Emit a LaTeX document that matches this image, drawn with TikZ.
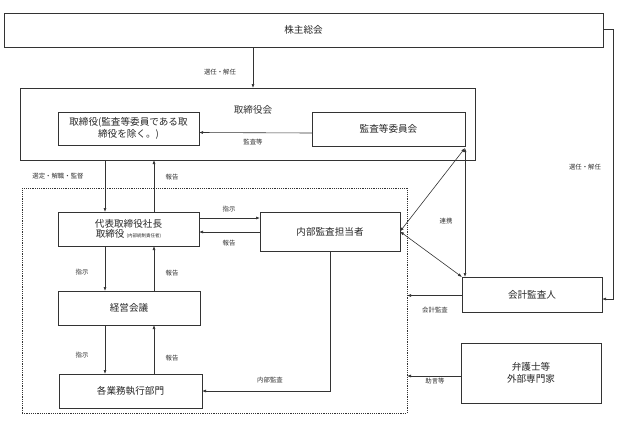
\documentclass[tikz,border=0pt]{standalone}
\usepackage{fontspec}
\newfontfamily\jp{Noto Sans CJK JP}
\usetikzlibrary{arrows.meta,calc}
\definecolor{ln}{HTML}{333333}
\tikzset{
  box/.style={draw=ln, line width=0.8pt, rectangle, inner sep=1pt, outer sep=0pt, align=center, font=\jp\fontsize{9.6}{11.5}\selectfont, text=black!85},
  lbl/.style={inner sep=0pt, font=\jp\fontsize{6.4}{8}\selectfont, text=black!80},
  arr/.style={draw=ln, line width=0.6pt, -{Latex[length=4pt,width=3pt]}},
  darr/.style={draw=ln, line width=0.6pt, {Latex[length=4pt,width=3pt]}-{Latex[length=4pt,width=3pt]}},
  dotbox/.style={draw=ln, line width=0.8pt, dash pattern=on 1.2pt off 1pt, rectangle, inner sep=0pt, outer sep=0pt}
}
\begin{document}
\begin{tikzpicture}[x=1pt,y=-1pt]
\useasboundingbox (0,0) rectangle (624,421);
% nodes
\node[box, minimum width=599pt, minimum height=34pt] (sh) at (303.5,30) {株主総会};
\node[box, line width=1pt, minimum width=455pt, minimum height=72pt] (bod) at (247.5,124) {};
\node[lbl, font=\jp\fontsize{9.6}{11}\selectfont] (bodt) at (253,110) {取締役会};
\node[box, minimum width=141pt, minimum height=33pt] (dir) at (128.5,128.5) {取締役(監査等委員である取\\締役を除く。)};
\node[box, minimum width=153pt, minimum height=34pt] (ac) at (388.5,129) {監査等委員会};
\node[dotbox, minimum width=385pt, minimum height=225pt] (dot) at (214.5,300.5) {};
\node[box, minimum width=141pt, minimum height=34pt] (rep) at (128.5,229) {代表取締役社長\\[-2pt]取締役 {\fontsize{4.5}{5}\selectfont (内部統制責任者)}};
\node[box, minimum width=140pt, minimum height=39pt] (ia) at (330,231.5) {内部監査担当者};
\node[box, minimum width=142pt, minimum height=34pt] (mg) at (129,308) {経営会議};
\node[box, minimum width=143pt, minimum height=34pt] (dept) at (130.5,391) {各業務執行部門};
\node[box, minimum width=140pt, minimum height=35pt] (audit) at (532,294.5) {会計監査人};
\node[box, minimum width=140pt, minimum height=60pt] (law) at (531,373) {弁護士等\\外部専門家};
% helper coordinates
\coordinate (xa) at (105,0);
\coordinate (xb) at (154,0);
% labels
\node[lbl] (l1) at (220,72) {選任・解任};
\node[lbl] (l2) at (253,142) {監査等};
\node[lbl] (l3) at (58,176) {選定・解職・監督};
\node[lbl] (l4) at (172,177) {報告};
\node[lbl] (l5) at (229,209) {指示};
\node[lbl] (l6) at (229,243) {報告};
\node[lbl] (l7) at (82,272) {指示};
\node[lbl] (l8) at (172,273) {報告};
\node[lbl] (l9) at (82,355) {指示};
\node[lbl] (l10) at (172,358) {報告};
\node[lbl] (l11) at (270,380) {内部監査};
\node[lbl] (l12) at (446,221) {連携};
\node[lbl] (l13) at (585,167) {選任・解任};
\node[lbl] (l14) at (435,310) {会計監査};
\node[lbl] (l15) at (435,381) {助言等};
% connectors
\draw[arr] (sh.south -| bodt.center) -- (bod.north -| bodt.center);
\draw[arr] ([yshift=-4pt]ac.west) -- ([yshift=-4pt]dir.east);
\draw[arr] (bod.south -| xa) -- (rep.north -| xa);
\draw[arr] (rep.north -| xb) -- (bod.south -| xb);
\draw[arr] ([yshift=11pt]rep.east) -- ([yshift=11pt]rep.east -| ia.west);
\draw[arr] ([yshift=-3pt]rep.east -| ia.west) -- ([yshift=-3pt]rep.east);
\draw[arr] (rep.south -| xa) -- (mg.north -| xa);
\draw[arr] (mg.north -| xb) -- (rep.south -| xb);
\draw[arr] (mg.south -| xa) -- (dept.north -| xa);
\draw[arr] (dept.north -| xb) -- (mg.south -| xb);
\draw[arr] (ia.south) -- (ia.south |- dept.east) -- (dept.east);
\draw[darr] ([yshift=-2pt]ac.south east) -- (ia.east);
\draw[darr] ([yshift=-2pt]ac.south east) -- (ac.south east |- audit.north);
\draw[darr] (ia.east) -- (audit.north west);
\draw[arr] ([yshift=-1pt]audit.west) -- ([yshift=-1pt]audit.west -| dot.east);
\draw[arr] ([yshift=-3pt]law.west) -- ([yshift=-3pt]law.west -| dot.east);
\draw[arr] ([yshift=1pt]sh.east) -- ++(10,0) |- ([yshift=-4.5pt]audit.east);
\end{tikzpicture}
\end{document}
